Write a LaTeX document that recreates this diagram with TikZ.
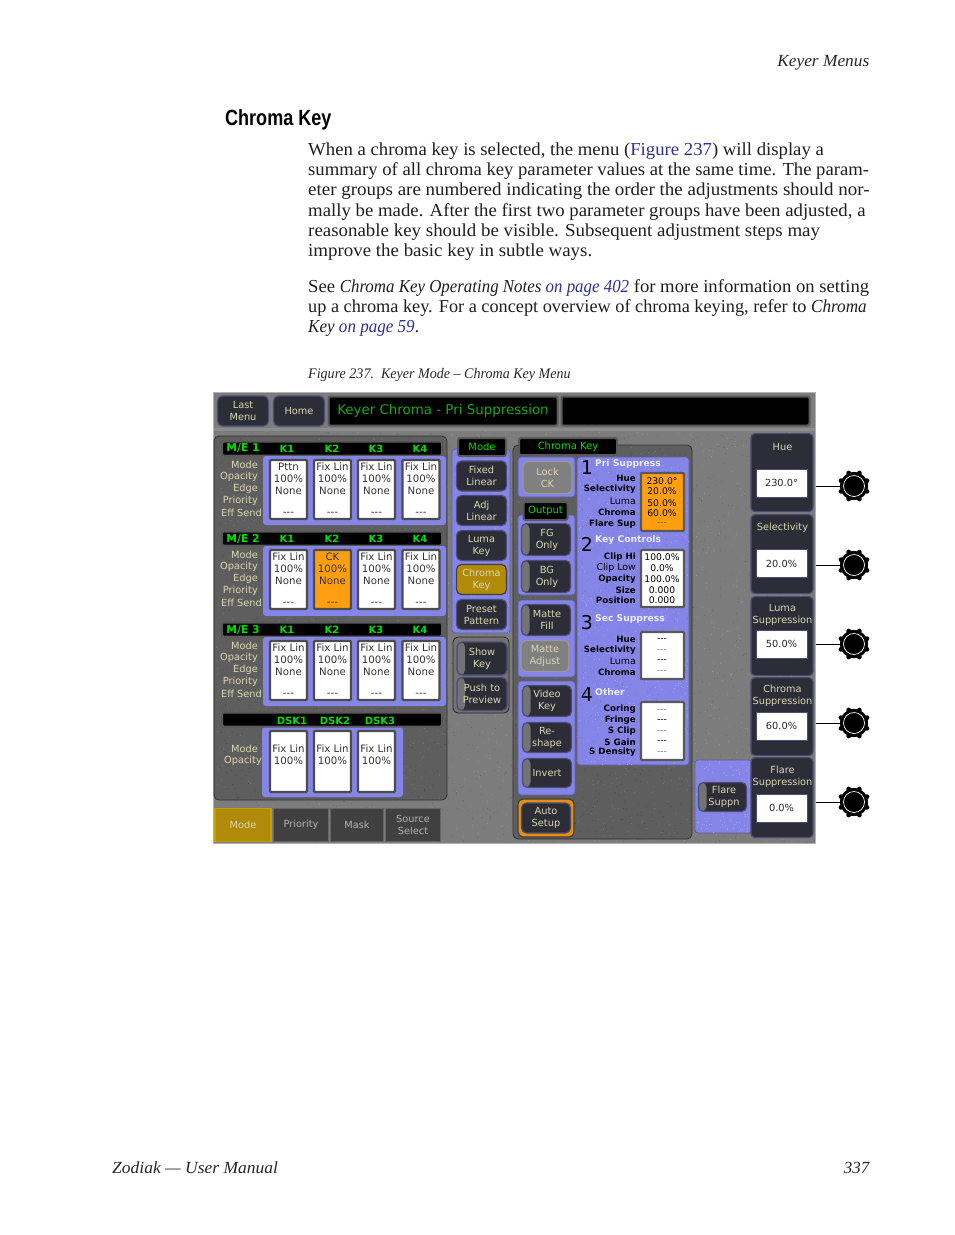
\documentclass[tikz,border=0pt]{standalone}
\usepackage{fontspec}
\setmainfont{Liberation Serif}
\newfontfamily\guifont{DejaVu Sans}
\newfontfamily\headfont{Liberation Sans}
\usepackage{tikz}
\usetikzlibrary{positioning}

\definecolor{linkblue}{HTML}{2E3192}
\definecolor{screengray}{HTML}{7C7C7C}
\definecolor{panelgray}{HTML}{5E5E5E}
\definecolor{keypurple}{HTML}{8585E8}
\definecolor{btndark}{HTML}{2D2D38}
\definecolor{btnedge}{HTML}{4C4C78}
\definecolor{btngold}{HTML}{B08A08}
\definecolor{keyorange}{HTML}{FF9F10}
\definecolor{guitext}{HTML}{D8D8B0}
\definecolor{guigreen}{HTML}{00E000}

\newcommand{\speckle}[6]{
    \foreach \n in {1,...,#6}
        \fill[#5] (#1+#3*rnd,#2+#4*rnd) rectangle ++(1,1);
}

\tikzset{
    bodyline/.style={anchor=base west, inner sep=0pt, font=\fontsize{18.3}{20}\selectfont, text=black!88},
    pagenote/.style={inner sep=0pt, font=\fontsize{17}{20}\selectfont\itshape, text=black!85},
    panel/.style={draw=black!80, fill=panelgray, rounded corners=5pt, line width=0.8pt},
    purple/.style={fill=keypurple, draw=keypurple!70!black, rounded corners=3pt, line width=0.8pt},
    tagbox/.style={draw=black!65, fill=black, line width=2pt, rounded corners=2pt, inner sep=0pt,
        text=guigreen, font=\guifont\fontsize{10}{12}\selectfont},
    btn/.style={draw=btnedge, fill=btndark, rounded corners=5pt, line width=1.2pt, inner sep=0pt,
        align=center, text=guitext, font=\guifont\fontsize{9.8}{12}\selectfont},
    sidebtn/.style={btn, path picture={\fill[black!55] (path picture bounding box.north west)
        rectangle ([xshift=8pt]path picture bounding box.south west);}},
    graybtn/.style={btn, fill=black!50, draw=black!40, text=guitext},
    goldbtn/.style={btn, fill=btngold, draw=black!75, text=guitext},
    tabbtn/.style={btn, rounded corners=0pt, fill=black!75, draw=black!60, text=black!30},
    sidebox/.style={btn, anchor=north, rounded corners=4pt},
    cell/.style={draw=black!70, fill=white, line width=2.4pt, rounded corners=1pt, inner sep=0pt},
    valbox/.style={draw=btnedge, fill=white, line width=1pt, inner sep=0pt, text=black!85,
        font=\guifont\fontsize{9.8}{12}\selectfont},
    celltxt/.style={inner sep=0pt, text=black!80, font=\guifont\fontsize{10.2}{12}\selectfont},
    rowlabel/.style={anchor=east, inner sep=0pt, text=guitext, font=\guifont\fontsize{9.8}{12}\selectfont},
    parmlabel/.style={anchor=east, inner sep=0pt, text=black, font=\guifont\fontsize{9.4}{10}\selectfont},
    parmbold/.style={parmlabel, font=\guifont\bfseries\fontsize{8.7}{10}\selectfont},
    parmval/.style={inner sep=0pt, font=\guifont\fontsize{9.2}{10}\selectfont},
    grouphead/.style={anchor=west, inner sep=0pt, text=black!5!keypurple!15!white, font=\guifont\bfseries\fontsize{9.2}{10}\selectfont},
    groupnum/.style={inner sep=0pt, text=black, font=\guifont\fontsize{19}{20}\selectfont},
    knob/.style={circle, fill=black, minimum size=28pt, inner sep=0pt},
}

\begin{document}
\begin{tikzpicture}[x=1pt,y=-1pt]
\useasboundingbox (0,0) rectangle (954,1235);
\pgfmathsetseed{7}

% page text
\node[pagenote, anchor=east, xscale=1.02] (runhead) at (869.5,62.5) {Keyer Menus};
\node[anchor=west, inner sep=0pt, xscale=0.82, font=\headfont\bfseries\fontsize{22}{24}\selectfont] (title) at (225,120) {Chroma Key};

\node[bodyline, xscale=1.024] (p1a) at (308,155) {When a chroma key is selected, the menu (\textcolor{linkblue}{Figure 237}) will display a};
\node[bodyline, xscale=1.02] (p1b) at (308,175.5) {summary of all chroma key parameter values at the same time. The param-};
\node[bodyline, xscale=1.037] (p1c) at (308,195.5) {eter groups are numbered indicating the order the adjustments should nor-};
\node[bodyline, xscale=1.026] (p1d) at (308,216) {mally be made. After the first two parameter groups have been adjusted, a};
\node[bodyline, xscale=1.034] (p1e) at (308,236) {reasonable key should be visible. Subsequent adjustment steps may};
\node[bodyline, xscale=1.033] (p1f) at (308,256) {improve the basic key in subtle ways.};
\node[bodyline, xscale=1.02] (p2a) at (308,292) {See \scalebox{0.905}[1]{\textit{Chroma Key Operating Notes} \textcolor{linkblue}{\textit{on page 402}}} for more information on setting};
\node[bodyline, xscale=0.998] (p2b) at (308,312.5) {up a chroma key. For a concept overview of chroma keying, refer to \scalebox{0.94}[1]{\textit{Chroma}}};
\node[bodyline, xscale=0.932] (p2c) at (308,332.5) {\textit{Key} \textcolor{linkblue}{\textit{on page 59}}.};
\node[inner sep=0pt, anchor=west, xscale=0.963, font=\fontsize{14.6}{16}\selectfont\itshape, text=black!85] (caption) at (308,375) {Figure 237.\ \ Keyer Mode – Chroma Key Menu};
\node[pagenote, anchor=west, xscale=1.03] (foot) at (112,1168) {Zodiak — User Manual};
\node[pagenote, anchor=east] (folio) at (869.5,1168) {337};

% screen
\fill[screengray] (214,393) rectangle (815,843);
\speckle{214}{431}{600}{411}{black!58}{1800}
\speckle{214}{431}{600}{411}{black!44}{1800}
\draw[black!30, line width=1pt] (213.5,392.5) rectangle (815.5,843.5);
\fill[black!45] (214,428) rectangle (815,431);

% top bar
\node[btn, minimum width=51pt, minimum height=30pt] (lastmenu) at (243,411) {Last\\Menu};
\node[btn, minimum width=51pt, minimum height=30pt] (home) at (299,411) {Home};
\node[tagbox, anchor=center, minimum width=229pt, minimum height=29pt, font=\guifont\fontsize{13.4}{14}\selectfont, text=guigreen!70!black!90!white] (menutitle) at (443,411) {Keyer Chroma - Pri Suppression};
\node[tagbox, minimum width=248pt, minimum height=29pt] (blankbar) at (685.5,411) {};

% delegate panel
\draw[panel] (214,436) rectangle (447,800);
\speckle{216}{438}{229}{360}{black!69}{900}
\speckle{216}{438}{229}{360}{black!56}{900}
\foreach \me/\ytop in {1/441,2/531,3/622}{
    \node[tagbox, minimum width=220pt, minimum height=14pt] (bar\me) at (332,\ytop+7.5) {};
    \node[inner sep=0pt, text=guigreen, font=\guifont\bfseries\fontsize{10.8}{12}\selectfont] (barme\me) at (243,\ytop+7.5) {M/E \me};
    \foreach \k/\x in {1/287,2/332,3/376,4/420}
        \node[inner sep=0pt, text=guigreen, font=\guifont\bfseries\fontsize{10}{12}\selectfont] (bar\me k\k) at (\x,\ytop+7.5) {K\k};
}
\fill[keypurple, rounded corners=3pt] (263,456) rectangle (446,525);
\fill[keypurple, rounded corners=3pt] (263,546) rectangle (446,616);
\fill[keypurple, rounded corners=3pt] (263,637) rectangle (446,706);
\fill[keypurple, rounded corners=3pt] (262,727) rectangle (403,797);

\foreach \me/\ytop in {1/461,2/551,3/642}
    \foreach \lab/\dy/\tag/\xr in {Mode/4/a/258,Opacity/16/b/258,Edge/28/c/258,Priority/40/d/258,Eff Send/52/e/262}
        \node[rowlabel] (row\me\tag) at (\xr,\ytop+\dy) {\lab};

\foreach \me/\k/\x/\ytop/\modetxt/\col in {
    1/1/288.5/461/Pttn/white, 1/2/332.5/461/Fix Lin/white, 1/3/376.5/461/Fix Lin/white, 1/4/421/461/Fix Lin/white,
    2/1/288.5/551/Fix Lin/white, 2/2/332.5/551/CK/keyorange, 2/3/376.5/551/Fix Lin/white, 2/4/421/551/Fix Lin/white,
    3/1/288.5/642/Fix Lin/white, 3/2/332.5/642/Fix Lin/white, 3/3/376.5/642/Fix Lin/white, 3/4/421/642/Fix Lin/white}{
    \node[cell, fill=\col, minimum width=37pt, minimum height=59pt] (cell\me\k) at (\x,\ytop+28.5) {};
    \node[celltxt] (mode\me\k) at (\x,\ytop+5.5) {\modetxt};
    \node[celltxt] (opac\me\k) at (\x,\ytop+18) {100\%};
    \node[celltxt] (edge\me\k) at (\x,\ytop+29.5) {None};
    \node[celltxt] (send\me\k) at (\x,\ytop+53) {---};
}

% dsk row
\node[tagbox, minimum width=220pt, minimum height=14pt] (dskbar) at (332,719.5) {};
\node[rowlabel] (dskmode) at (258,749) {Mode};
\node[rowlabel] (dskopac) at (262,761) {Opacity};
\foreach \k/\x/\lx in {1/288.5/292,2/332.5/335,3/376.5/380}{
    \node[inner sep=0pt, text=guigreen, font=\guifont\bfseries\fontsize{10}{12}\selectfont] (dsk\k) at (\lx,721) {DSK\k};
    \node[cell, minimum width=37pt, minimum height=61pt] (dskcell\k) at (\x,761.5) {};
    \node[celltxt] (dskfix\k) at (\x,749) {Fix Lin};
    \node[celltxt] (dskpct\k) at (\x,761) {100\%};
}

% bottom tabs
\node[goldbtn, rounded corners=0pt, draw=btngold!80!yellow, minimum width=56pt, minimum height=33pt] (tabmode) at (243,825) {Mode};
\node[tabbtn, minimum width=55pt, minimum height=33pt] (tabprio) at (301,825) {Priority};
\node[tabbtn, minimum width=53pt, minimum height=33pt] (tabmask) at (357,825) {Mask};
\node[tabbtn, minimum width=55pt, minimum height=33pt] (tabsrc) at (413,825) {Source\\Select};

% mode column
\draw[purple] (452,449) rectangle (510,633);
\speckle{453}{450}{56}{182}{keypurple!85!white}{220}
\node[tagbox, minimum width=48pt, minimum height=18pt] (modetag) at (482,447) {Mode};
\foreach \name/\yc/\lab in {fixed/476/Fixed\\Linear, adj/510.5/Adj\\Linear, luma/545.5/Luma\\Key, preset/614.5/Preset\\Pattern}
    \node[btn, minimum width=50pt, minimum height=30pt] (\name) at (481.5,\yc) {\lab};
\node[goldbtn, minimum width=50pt, minimum height=30pt] (chroma) at (481.5,579.5) {Chroma\\Key};
\draw[panel, draw=black!85, fill=black!55] (453,637) rectangle (509,713);
\node[sidebtn, minimum width=50pt, minimum height=33pt] (showkey) at (482,658.5) {Show\\Key};
\node[sidebtn, minimum width=50pt, minimum height=33pt] (pushprev) at (482,694) {Push to\\Preview};

% chroma key panel
\draw[panel] (513,445) rectangle (692,839);
\speckle{515}{447}{175}{390}{black!69}{700}
\speckle{515}{447}{175}{390}{black!56}{700}
\node[tagbox, minimum width=98pt, minimum height=17pt] (chromatag) at (568,446.5) {Chroma Key};
\draw[purple] (518,457) rectangle (575,497);
\node[graybtn, minimum width=49pt, minimum height=32pt] (lockck) at (547.5,477.5) {Lock\\CK};
\draw[purple] (518,515) rectangle (575,595);
\node[tagbox, minimum width=44pt, minimum height=18pt] (outtag) at (545.5,511) {Output};
\node[sidebtn, minimum width=49pt, minimum height=32pt] (fgonly) at (546,539.5) {\hspace{2pt}FG\\\hspace{2pt}Only};
\node[sidebtn, minimum width=49pt, minimum height=32pt] (bgonly) at (546,576.5) {\hspace{2pt}BG\\\hspace{2pt}Only};
\draw[purple] (518,600) rectangle (575,677);
\node[sidebtn, minimum width=49pt, minimum height=31pt] (mattefill) at (546,620) {\hspace{2pt}Matte\\\hspace{2pt}Fill};
\node[graybtn, minimum width=48pt, minimum height=31pt] (matteadj) at (545,656) {Matte\\Adjust};
\draw[purple] (518,681) rectangle (575,795);
\node[sidebtn, minimum width=49pt, minimum height=31pt] (videokey) at (547,701) {Video\\Key};
\node[sidebtn, minimum width=49pt, minimum height=30pt] (reshape) at (547,737.5) {Re-\\shape};
\node[sidebtn, minimum width=49pt, minimum height=29pt] (invert) at (547,773) {Invert};
\node[goldbtn, fill=keyorange!90!black, draw=black!75, minimum width=56pt, minimum height=38pt] (autobase) at (546,818) {};
\node[btn, minimum width=49pt, minimum height=30pt] (auto) at (546,818) {Auto\\Setup};

% parameter block
\draw[purple] (577,457) rectangle (689,765);
\speckle{578}{458}{110}{306}{keypurple!80!white}{650}
\speckle{578}{458}{110}{306}{keypurple!88!black}{300}
\foreach \num/\yn/\yh/\lab in {1/468/464/Pri Suppress,2/544/540/Key Controls,3/623/619.5/Sec Suppress,4/695/692/Other}{
    \node[groupnum] (num\num) at (587,\yn) {\num};
    \node[grouphead] (head\num) at (595,\yh) {\lab};
}
\node[cell, fill=keyorange, draw=black!65, minimum width=43pt, minimum height=58pt] (grp1) at (662.5,502) {};
\node[cell, draw=black!65, minimum width=43pt, minimum height=57pt] (grp2) at (662.5,578.5) {};
\node[cell, draw=black!65, minimum width=43pt, minimum height=47pt] (grp3) at (662.5,655.5) {};
\node[cell, draw=black!65, minimum width=43pt, minimum height=58pt] (grp4) at (662.5,731) {};

\foreach \tag/\yr/\yv/\lab/\sty/\val/\vcol in {
    a/478.5/481/Hue/parmbold/230.0\textdegree/black, b/489/491.5/Selectivity/parmbold/20.0\%/black, c/501.5/503/Luma/parmlabel/50.0\%/black, d/512/513.5/Chroma/parmbold/60.0\%/black, e/524/524.5/Flare Sup/parmbold/---/black!60,
    f/557.5/557/Clip Hi/parmbold/100.0\%/black, g/568/568/Clip Low/parmlabel/0.0\%/black, h/579.5/579/Opacity/parmbold/100.0\%/black, i/590/590/Size/parmbold/0.000/black, j/600.5/600.5/Position/parmbold/0.000/black,
    k/639/640/Hue/parmbold/---/black, l/650/651/Selectivity/parmbold/---/black!50, m/661/661/Luma/parmlabel/---/black, n/672/672/Chroma/parmbold/---/black!50,
    o/709/711/Coring/parmbold/---/black!50, p/720/721/Fringe/parmbold/---/black, q/731/732/S Clip/parmbold/---/black!50, r/742/742/S Gain/parmbold/---/black, s/752/753/S Density/parmbold/---/black!50}{
    \node[\sty] (plab\tag) at (636,\yr) {\lab};
    \node[parmval, text=\vcol] (pval\tag) at (662,\yv) {\val};
}

% flare button
\draw[purple] (695,760) rectangle (752,833);
\speckle{696}{761}{55}{71}{keypurple!80!white}{120}
\node[sidebtn, minimum width=48pt, minimum height=29pt] (flarebtn) at (722.5,797) {\hspace{3pt}Flare\\\hspace{3pt}Suppn};

% soft knob column
\foreach \name/\ytop/\h/\ylab/\lab/\ybox/\val/\yk in {
    hue/433/78/446.5/Hue/483/230.0\textdegree/486,
    sel/514/79/527.5/Selectivity/563.5/20.0\%/565,
    lum/596/79/614.5/Luma\\Suppression/644/50.0\%/644,
    chr/677/78/695.5/Chroma\\Suppression/726/60.0\%/723,
    fla/757/80/776.5/Flare\\Suppression/808/0.0\%/802}{
    \node[sidebox, minimum width=62pt, minimum height=\h pt] (\name btn) at (782,\ytop) {};
    \node[btn, draw=none, fill=none] (\name lab) at (782.5,\ylab) {\lab};
    \node[valbox, minimum width=51pt, minimum height=28pt] (\name val) at (781.5,\ybox) {\val};
    \coordinate (\name tap) at (815.5,\yk);
    \node[knob] (\name knob) at (854,\yk) {};
    \foreach \a in {0,45,...,315}
        \fill (\name knob) ++(\a+22.5:14) circle (2.4);
    \draw[white, line width=0.7pt] (\name knob) circle (10.5);
    \draw[line width=0.8pt] (\name tap) -- (\name knob);
}

\end{tikzpicture}
\end{document}
